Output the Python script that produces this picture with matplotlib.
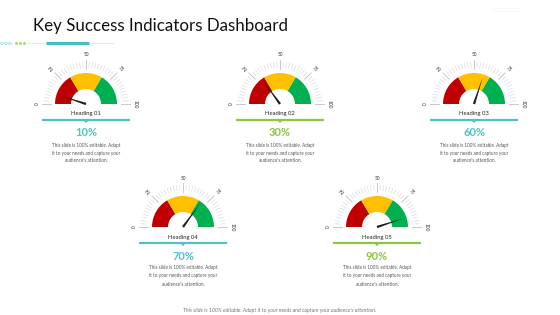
import numpy as np
import matplotlib
matplotlib.use("Agg")
import matplotlib.pyplot as plt
from matplotlib.patches import Wedge, Polygon

# ---- data ----
title = "Key Success Indicators Dashboard"
headings = ["Heading 01", "Heading 02", "Heading 03", "Heading 04", "Heading 05"]
values = [10, 30, 60, 70, 90]
zone_bounds = [0, 33, 67, 100]
zone_colors = ["#C00000", "#FFC000", "#00B050"]
scale_labels = [0, 25, 50, 75, 100]
accent = ["#4DC3C8", "#8CC540", "#4DC3C8", "#4DC3C8", "#8CC540"]
body = "This slide is 100% editable. Adapt\nit to your needs and capture your\naudience's attention."
footer = "This slide is 100% editable. Adapt it to your needs and capture your audience's attention."

# layout (pixel positions of gauge centres)
centers = [(86, 104), (280, 104), (474, 104), (183, 227), (377, 227)]

W, H = 560, 315
fig = plt.figure(figsize=(5.6, 3.15), dpi=100)
ax = fig.add_axes([0, 0, 1, 1])
ax.set_xlim(0, W)
ax.set_ylim(0, H)
ax.axis("off")
FONT = "Lato"

def Y(v):
    return H - v

def ang(v):
    return 180 - v * 1.8

# title
ax.text(33, Y(26), title, fontsize=12.2, family=FONT, color="#111111", va="center", ha="left")
# decorative line under title
for x in [2, 6, 10]:
    ax.plot([x], [Y(43)], marker=">", ms=2.2, mfc="none", mec="#9ED9DA", mew=0.5)
for x in [16, 20, 24]:
    ax.plot([x], [Y(43)], marker="o", ms=1.2, color="#B5D77B")
ax.plot([27, 46], [Y(43), Y(43)], color="#C9E9EA", lw=0.5)
ax.plot([46, 89], [Y(43), Y(43)], color="#3FC1C3", lw=2.2, solid_capstyle="butt")
ax.plot([89, 113], [Y(43), Y(43)], color="#E6D3D3", lw=0.5)
# faint top-right decoration
ax.plot([492, 520], [Y(8), Y(8)], color="#EAF4DA", lw=0.6, ls=":")
ax.plot([494, 520], [Y(11), Y(11)], color="#EAF4DA", lw=0.6, ls=":")

R_out, R_in = 31, 15
for (cx, cy), head, val, col in zip(centers, headings, values, accent):
    yc = Y(cy)
    # coloured zones
    for (a, b), zc in zip(zip(zone_bounds[:-1], zone_bounds[1:]), zone_colors):
        ax.add_patch(Wedge((cx, yc), R_out, ang(b), ang(a), width=R_out - R_in,
                           facecolor=zc, edgecolor="none"))
    # tick ring
    for t in np.arange(0, 101, 2.5):
        th = np.deg2rad(ang(t))
        major = t % 25 == 0
        r0, r1 = (35, 44) if major else (37, 42)
        ax.plot([cx + r0 * np.cos(th), cx + r1 * np.cos(th)],
                [yc + r0 * np.sin(th), yc + r1 * np.sin(th)],
                color="#BFBFBF" if major else "#DDDDDD", lw=0.6 if major else 0.5)
    for t in scale_labels:
        th = np.deg2rad(ang(t))
        ax.text(cx + 49 * np.cos(th), yc + 49 * np.sin(th), str(t), fontsize=3.4,
                family=FONT, color="#333333", ha="center", va="center",
                rotation=ang(t) - 90)
    # needle
    th = np.deg2rad(ang(val))
    L, w = 28, 1.2
    tip = (cx + L * np.cos(th), yc + L * np.sin(th))
    p1 = (cx + w * np.cos(th + np.pi / 2), yc + w * np.sin(th + np.pi / 2))
    p2 = (cx + w * np.cos(th - np.pi / 2), yc + w * np.sin(th - np.pi / 2))
    ax.add_patch(Polygon([tip, p1, p2], closed=True, facecolor="#1F1F1F", edgecolor="none"))
    # heading, rule, percent, body
    ax.text(cx, Y(cy + 10), head, fontsize=4.2, family=FONT, color="#222222",
            ha="center", va="center")
    ax.plot([cx - 44, cx + 44], [Y(cy + 16), Y(cy + 16)], color=col, lw=1.6,
            solid_capstyle="butt")
    ax.add_patch(Polygon([(cx - 3, Y(cy + 16)), (cx + 3, Y(cy + 16)), (cx, Y(cy + 19))],
                         closed=True, facecolor=col, edgecolor="none"))
    ax.text(cx, Y(cy + 29), f"{val}%", fontsize=8, family=FONT, color=col,
            ha="center", va="center", fontweight="bold")
    ax.text(cx, Y(cy + 49), body, fontsize=3.3, family=FONT, color="#555555",
            ha="center", va="center", linespacing=1.75)

ax.text(W / 2, Y(310), footer, fontsize=3.75, family=FONT, color="#777777",
        ha="center", va="center", style="italic")

fig.savefig("out.png", dpi=100)
